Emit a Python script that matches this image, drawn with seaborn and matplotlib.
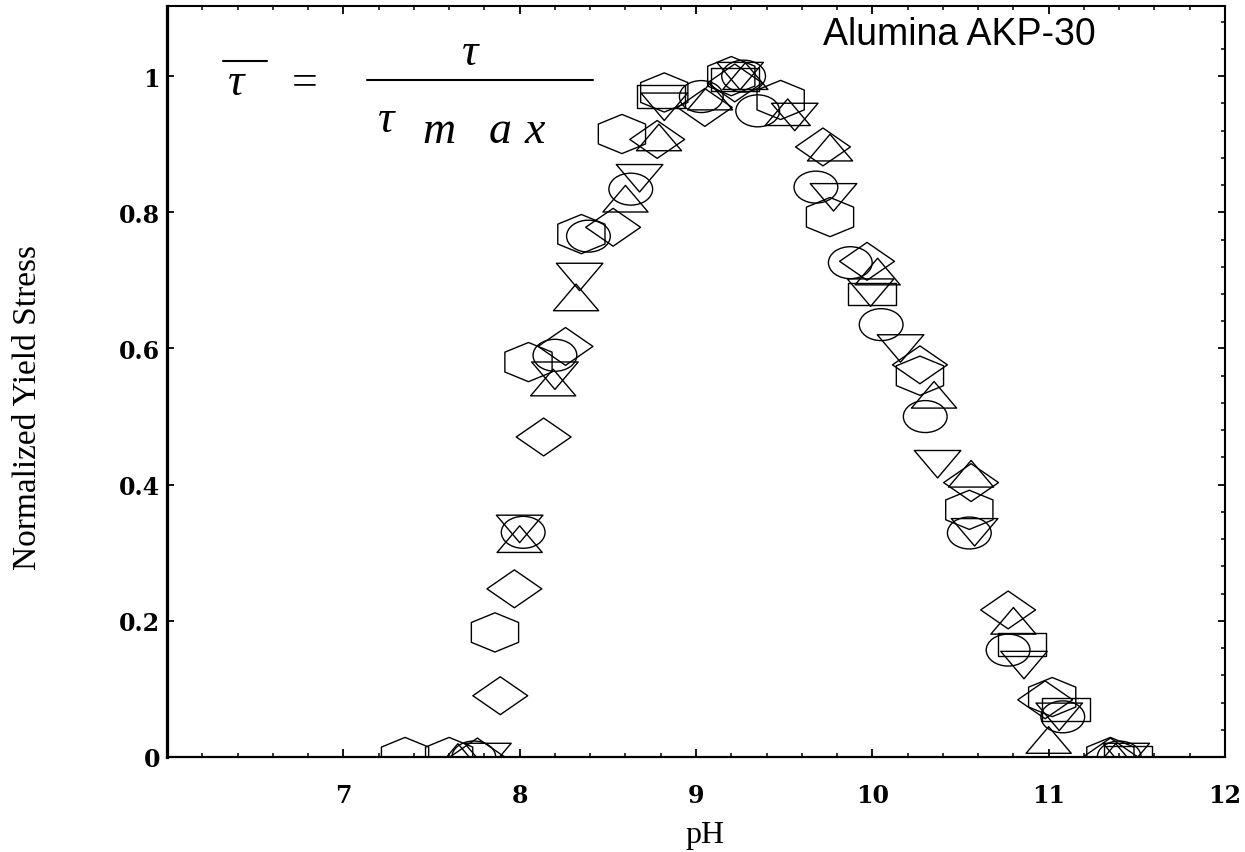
import numpy as np
import pandas as pd
import matplotlib
matplotlib.use("Agg")
import matplotlib.pyplot as plt
from matplotlib.path import Path
from matplotlib.transforms import Affine2D
from matplotlib.lines import Line2D
from matplotlib.ticker import FixedLocator, MultipleLocator, FixedFormatter
import seaborn as sns

# ---- measured normalized yield stress vs pH, one list pair per marker series ----
hex_ph = [7.35, 7.60, 7.86, 8.05, 8.35, 8.58, 8.82, 9.20, 9.48, 9.76, 10.27, 10.55, 11.02, 11.35]
hex_tau = [0.0, 0.0, 0.183, 0.58, 0.768, 0.915, 0.976, 1.0, 0.965, 0.793, 0.56, 0.363, 0.088, 0.0]

circle_ph = [7.74, 8.02, 8.20, 8.39, 8.63, 9.03, 9.27, 9.35, 9.68, 9.875, 10.05, 10.30, 10.55, 10.77, 11.08, 11.40]
circle_tau = [0.0, 0.33, 0.59, 0.765, 0.834, 0.97, 1.0, 0.949, 0.837, 0.726, 0.635, 0.50, 0.329, 0.157, 0.059, 0.0]

diamond_ph = [7.76, 7.89, 7.97, 8.136, 8.26, 8.53, 8.78, 9.05, 9.22, 9.72, 9.97, 10.27, 10.56, 10.77, 10.98, 11.35]
diamond_tau = [0.0, 0.09, 0.247, 0.47, 0.603, 0.778, 0.907, 0.954, 0.99, 0.896, 0.728, 0.576, 0.403, 0.216, 0.084, 0.0]

tri_up_ph = [7.65, 8.00, 8.19, 8.32, 8.60, 8.79, 9.08, 9.28, 9.52, 9.76, 10.03, 10.35, 10.56, 10.80, 11.00, 11.38]
tri_up_tau = [0.0, 0.32, 0.55, 0.675, 0.82, 0.91, 0.97, 1.0, 0.947, 0.895, 0.713, 0.532, 0.416, 0.20, 0.025, 0.0]

tri_down_ph = [7.82, 8.00, 8.20, 8.34, 8.68, 8.82, 9.25, 9.56, 9.78, 9.99, 10.16, 10.37, 10.58, 10.86, 11.06, 11.44]
tri_down_tau = [0.0, 0.335, 0.56, 0.705, 0.85, 0.955, 1.0, 0.94, 0.822, 0.682, 0.60, 0.43, 0.33, 0.135, 0.059, 0.0]

square_ph = [8.80, 9.22, 10.00, 10.85, 11.10, 11.45]
square_tau = [0.97, 0.995, 0.68, 0.165, 0.07, 0.0]

x_tick_values = [7, 8, 9, 10, 11, 12]
x_tick_labels = ["7", "8", "9", "10", "11", "12"]
y_tick_values = [0, 0.2, 0.4, 0.6, 0.8, 1.0]
y_tick_labels = ["0", "0.2", "0.4", "0.6", "0.8", "1"]

# ---- wide outline marker shapes ----
def poly(verts):
    verts = list(verts) + [verts[0]]
    codes = [Path.MOVETO] + [Path.LINETO] * (len(verts) - 2) + [Path.CLOSEPOLY]
    return Path(verts, codes)

m_circle = Path.unit_circle().transformed(Affine2D().scale(1.0, 0.73))
m_hex = poly([(0, 0.83), (1, 0.42), (1, -0.42), (0, -0.83), (-1, -0.42), (-1, 0.42)])
m_diamond = poly([(1, 0), (0, 0.69), (-1, 0), (0, -0.69)])
m_up = poly([(0, 0.59), (-1, -0.59), (1, -0.59)])
m_down = poly([(0, -0.59), (1, 0.59), (-1, 0.59)])
m_square = poly([(-1, -0.47), (1, -0.47), (1, 0.47), (-1, 0.47)])

series = [
    (hex_ph, hex_tau, m_hex, 34),
    (circle_ph, circle_tau, m_circle, 31.5),
    (diamond_ph, diamond_tau, m_diamond, 39.5),
    (tri_up_ph, tri_up_tau, m_up, 32.5),
    (tri_down_ph, tri_down_tau, m_down, 33.5),
    (square_ph, square_tau, m_square, 34.5),
]

sns.set_style("white")
plt.rcParams["font.family"] = ["Liberation Serif", "DejaVu Serif"]
plt.rcParams["text.color"] = "black"
plt.rcParams["axes.labelcolor"] = "black"
plt.rcParams["xtick.color"] = "black"
plt.rcParams["ytick.color"] = "black"

fig = plt.figure(figsize=(12.45, 8.53), dpi=100)
W, H = 1245, 853
L, R, T, B = 167, 1225, 7, 758
ax = fig.add_axes([L / W, 1 - B / H, (R - L) / W, (B - T) / H])

for ph, tau, mk, size in series:
    df = pd.DataFrame({"pH": ph, "tau": tau})
    sns.scatterplot(data=df, x="pH", y="tau", marker=mk, s=size ** 2,
                    facecolor="none", edgecolor="black", linewidth=1.0,
                    ax=ax, legend=False, zorder=3)

ax.set_xlim(6, 12)
ax.set_ylim(0, 1.103)

# frame and ticks
for side, lw in [("left", 2.3), ("bottom", 1.6), ("top", 1.5), ("right", 1.5)]:
    ax.spines[side].set_visible(True)
    ax.spines[side].set_linewidth(lw)
    ax.spines[side].set_color("black")

ax.xaxis.set_major_locator(FixedLocator(x_tick_values))
ax.xaxis.set_major_formatter(FixedFormatter(x_tick_labels))
ax.xaxis.set_minor_locator(MultipleLocator(0.2))
ax.yaxis.set_major_locator(FixedLocator(y_tick_values))
ax.yaxis.set_major_formatter(FixedFormatter(y_tick_labels))
ax.yaxis.set_minor_locator(MultipleLocator(0.04))

ax.tick_params(axis="both", which="both", direction="in", color="black", labelcolor="black")
ax.tick_params(axis="x", which="both", top=True, bottom=True)
ax.tick_params(axis="x", which="major", length=6, width=1.3, pad=19)
ax.tick_params(axis="x", which="minor", length=3, width=1.1)
ax.tick_params(axis="y", which="major", left=True, right=True, length=5, width=1.3, pad=5)
ax.tick_params(axis="y", which="minor", left=False, right=True, length=3, width=1.1)

for lbl in ax.get_xticklabels() + ax.get_yticklabels():
    lbl.set_fontfamily("DejaVu Serif")
    lbl.set_fontweight("bold")
    lbl.set_fontsize(17)

ax.set_xlabel("pH", fontsize=23, family="Liberation Serif", color="black")
ax.set_ylabel("Normalized Yield Stress", fontsize=24, family="Liberation Serif", color="black")
ax.xaxis.label.set_va("center")
ax.yaxis.label.set_va("center")

def ax_xy(px, py):
    return (px - L) / (R - L), (B - py) / (B - T)

ax.xaxis.set_label_coords(*ax_xy(705, 836))
ax.yaxis.set_label_coords(*ax_xy(28, 408))

ax.text(*ax_xy(959, 35), "Alumina AKP-30", transform=ax.transAxes, color="black",
        ha="center", va="center", fontsize=27, family="Liberation Sans")

# formula: tau-bar = tau / tau max
fs = 33
it = dict(transform=ax.transAxes, fontsize=fs, family="Liberation Serif",
          style="italic", ha="center", va="baseline", color="black")
ax.text(*ax_xy(236, 95), "\u03c4", **it)
ax.text(*ax_xy(305, 95), "=", transform=ax.transAxes, fontsize=fs, color="black",
        family="Liberation Serif", ha="center", va="baseline")
ax.text(*ax_xy(470, 65), "\u03c4", **it)
ax.text(*ax_xy(386, 132), "\u03c4", **it)
ax.text(*ax_xy(439, 143), "m", **it)
ax.text(*ax_xy(500, 143), "a", **it)
ax.text(*ax_xy(535, 143), "x", **it)

x0, y0 = ax_xy(223, 62)
x1, _ = ax_xy(267, 62)
ax.add_line(Line2D([x0, x1], [y0, y0], transform=ax.transAxes, color="black", lw=1.5))
x0, y0 = ax_xy(367, 81)
x1, _ = ax_xy(593, 81)
ax.add_line(Line2D([x0, x1], [y0, y0], transform=ax.transAxes, color="black", lw=1.5))

fig.savefig("out.png", dpi=100, facecolor="white")
